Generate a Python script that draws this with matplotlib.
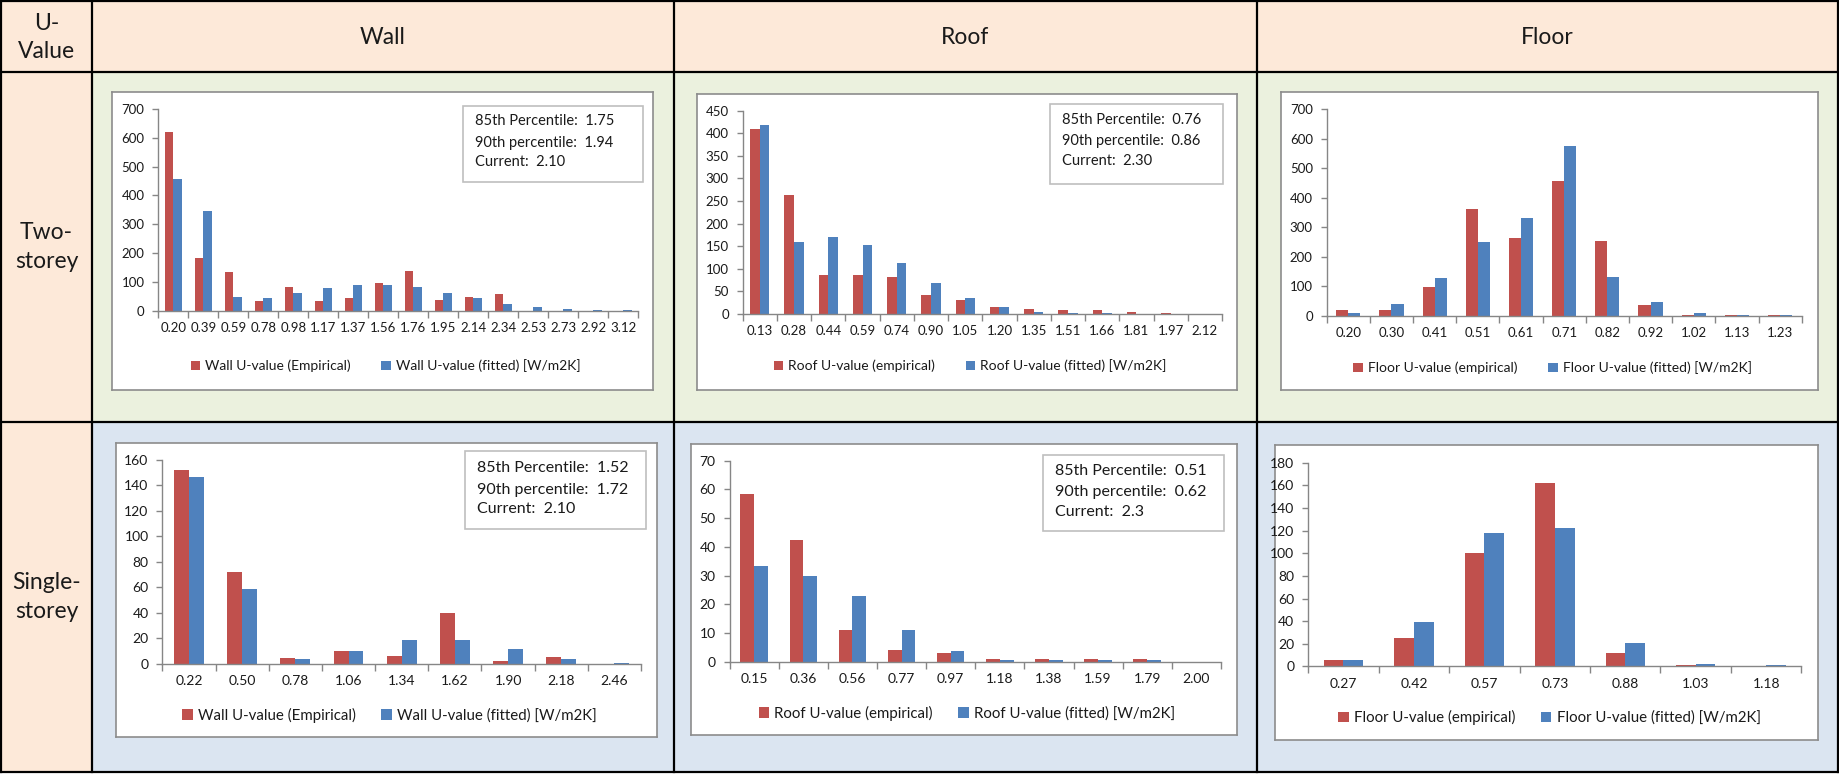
import matplotlib
matplotlib.use('Agg')
import matplotlib.pyplot as plt
from matplotlib.patches import Rectangle, Patch
import numpy as np

plt.rcParams['font.family'] = ['Lato', 'DejaVu Sans']

# ---------------- data ----------------
col_headers = ['Wall', 'Roof', 'Floor']
corner_label = 'U-\nValue'
row_labels = ['Two-\nstorey', 'Single-\nstorey']

wall2_cats = ['0.20', '0.39', '0.59', '0.78', '0.98', '1.17', '1.37', '1.56',
              '1.76', '1.95', '2.14', '2.34', '2.53', '2.73', '2.92', '3.12']
wall2_emp = [619, 182, 133, 32, 83, 32, 43, 95, 137, 36, 49, 58, 0, 0, 0, 0]
wall2_fit = [456, 345, 49, 43, 61, 78, 90, 90, 81, 61, 43, 23, 14, 6, 4, 4]
wall2_stats = ['85th Percentile:  1.75', '90th percentile:  1.94', 'Current:  2.10']
wall2_legend = ['Wall U-value (Empirical)', 'Wall U-value (fitted) [W/m2K]']

roof2_cats = ['0.13', '0.28', '0.44', '0.59', '0.74', '0.90', '1.05',
              '1.20', '1.35', '1.51', '1.66', '1.81', '1.97', '2.12']
roof2_emp = [409, 263, 86, 86, 83, 42, 30, 15, 12, 9, 8, 4, 2, 0]
roof2_fit = [418, 159, 171, 153, 113, 69, 35, 15, 4, 3, 2, 1, 0, 0]
roof2_stats = ['85th Percentile:  0.76', '90th percentile:  0.86', 'Current:  2.30']
roof2_legend = ['Roof U-value (empirical)', 'Roof U-value (fitted) [W/m2K]']

floor2_cats = ['0.20', '0.30', '0.41', '0.51', '0.61', '0.71', '0.82',
               '0.92', '1.02', '1.13', '1.23']
floor2_emp = [18, 18, 98, 363, 262, 457, 254, 37, 3, 2, 2]
floor2_fit = [9, 38, 126, 249, 332, 574, 130, 45, 10, 2, 2]
floor2_legend = ['Floor U-value (empirical)', 'Floor U-value (fitted) [W/m2K]']

wall1_cats = ['0.22', '0.50', '0.78', '1.06', '1.34', '1.62', '1.90', '2.18', '2.46']
wall1_emp = [152, 72, 5, 10, 6, 40, 2, 5.5, 0]
wall1_fit = [146, 59, 4, 10, 18.5, 19, 12, 4, 1]
wall1_stats = ['85th Percentile:  1.52', '90th percentile:  1.72', 'Current:  2.10']
wall1_legend = ['Wall U-value (Empirical)', 'Wall U-value (fitted) [W/m2K]']

roof1_cats = ['0.15', '0.36', '0.56', '0.77', '0.97', '1.18', '1.38', '1.59', '1.79', '2.00']
roof1_emp = [58.4, 42.3, 11.1, 4.2, 2.9, 0.9, 0.9, 0.9, 0.9, 0]
roof1_fit = [33.5, 30, 22.9, 11.1, 3.6, 0.7, 0.5, 0.5, 0.5, 0]
roof1_stats = ['85th Percentile:  0.51', '90th percentile:  0.62', 'Current:  2.3']
roof1_legend = ['Roof U-value (empirical)', 'Roof U-value (fitted) [W/m2K]']

floor1_cats = ['0.27', '0.42', '0.57', '0.73', '0.88', '1.03', '1.18']
floor1_emp = [5.3, 25.4, 100, 162, 11.8, 1.2, 0]
floor1_fit = [5.9, 39, 118, 122, 20.7, 2, 1.2]
floor1_legend = ['Floor U-value (empirical)', 'Floor U-value (fitted) [W/m2K]']

# ---------------- style ----------------
W, H = 1839, 774
RED = '#C0504D'
BLUE = '#4F81BD'
AXGRAY = '#868686'
PEACH = '#FDE9D9'
GREEN = '#EBF1DE'
LBLUE = '#DBE5F1'
TXT = '#1a1a1a'


def frac(x0, y0, x1, y1):
    return [x0 / W, 1 - y1 / H, (x1 - x0) / W, (y1 - y0) / H]


fig = plt.figure(figsize=(W / 100, H / 100), dpi=100)
bg = fig.add_axes([0, 0, 1, 1])
bg.set_xlim(0, W)
bg.set_ylim(H, 0)
bg.axis('off')

X = [1, 92, 674, 1257, 1838]
Y = [1, 72, 422, 772]

bg.add_patch(Rectangle((X[0], Y[0]), X[4] - X[0], Y[1] - Y[0], fc=PEACH, ec='none'))
bg.add_patch(Rectangle((X[0], Y[1]), X[1] - X[0], Y[3] - Y[1], fc=PEACH, ec='none'))
bg.add_patch(Rectangle((X[1], Y[1]), X[4] - X[1], Y[2] - Y[1], fc=GREEN, ec='none'))
bg.add_patch(Rectangle((X[1], Y[2]), X[4] - X[1], Y[3] - Y[2], fc=LBLUE, ec='none'))
for y in Y:
    bg.plot([X[0], X[4]], [y, y], color='black', lw=1.6, solid_capstyle='projecting')
for x in X:
    bg.plot([x, x], [Y[0], Y[3]], color='black', lw=1.6, solid_capstyle='projecting')

bg.text((X[0] + X[1]) / 2, (Y[0] + Y[1]) / 2 + 1, corner_label, ha='center', va='center',
        fontsize=16.5, linespacing=1.4, color=TXT)
for i, h in enumerate(col_headers):
    bg.text((X[i + 1] + X[i + 2]) / 2, (Y[0] + Y[1]) / 2 + 1, h, ha='center', va='center',
            fontsize=16.5, color=TXT)
for i, r in enumerate(row_labels):
    bg.text((X[0] + X[1]) / 2, (Y[i + 1] + Y[i + 2]) / 2, r, ha='center', va='center',
            fontsize=16.5, linespacing=1.5, color=TXT)


def chart(box, plot, cats, emp, fit, ymax, ystep, labels, legend_y, fs, lfs, colsp,
          stats=None, stat_box=None, stat_ys=None, stat_x=None, stat_fs=10):
    bx = fig.add_axes(frac(*box))
    bx.set_xlim(box[0], box[2])
    bx.set_ylim(box[3], box[1])
    bx.set_xticks([])
    bx.set_yticks([])
    bx.set_facecolor('white')
    for s in bx.spines.values():
        s.set_color('#8C8C8C')
        s.set_linewidth(1.2)
    if stats is not None:
        sb = stat_box
        bx.add_patch(Rectangle((sb[0], sb[1]), sb[2] - sb[0], sb[3] - sb[1],
                               fc='white', ec='#BFBFBF', lw=1.2))
        for t, yy in zip(stats, stat_ys):
            bx.text(stat_x, yy, t, ha='left', va='center', fontsize=stat_fs, color=TXT)

    px0, px1, ptop, pzero = plot
    ax = fig.add_axes(frac(px0, ptop, px1, pzero))
    ax.patch.set_alpha(0)
    n = len(cats)
    x = np.arange(n)
    ax.bar(x - 0.14, emp, 0.28, color=RED, linewidth=0)
    ax.bar(x + 0.14, fit, 0.28, color=BLUE, linewidth=0)
    ax.set_xlim(-0.5, n - 0.5)
    ax.set_ylim(0, ymax)
    ax.set_yticks(np.arange(0, ymax + 0.1, ystep))
    ax.set_xticks(x)
    ax.set_xticklabels(cats)
    ax.set_xticks(np.arange(-0.5, n, 1), minor=True)
    ax.tick_params(axis='x', which='major', length=0, pad=8, labelsize=fs, labelcolor=TXT)
    ax.tick_params(axis='x', which='minor', length=5, color=AXGRAY, width=1)
    ax.tick_params(axis='y', length=4, color=AXGRAY, width=1, labelsize=fs, pad=6,
                   labelcolor=TXT)
    for s in ['top', 'right']:
        ax.spines[s].set_visible(False)
    for s in ['left', 'bottom']:
        ax.spines[s].set_color(AXGRAY)
        ax.spines[s].set_linewidth(1)

    handles = [Patch(facecolor=RED, edgecolor='none'), Patch(facecolor=BLUE, edgecolor='none')]
    leg = fig.legend(handles, labels, loc='center',
                     bbox_to_anchor=(((box[0] + box[2]) / 2 + 3) / W, 1 - legend_y / H),
                     ncol=2, frameon=False, fontsize=lfs, handlelength=0.7, handleheight=0.7,
                     handletextpad=0.35, columnspacing=colsp, borderpad=0, borderaxespad=0)
    for t in leg.get_texts():
        t.set_color(TXT)


# Two-storey row
chart((112, 92, 653, 390), (158.3, 638.3, 109, 310.7), wall2_cats, wall2_emp, wall2_fit,
      700, 100, wall2_legend, 366, 9.5, 10, 2.2,
      stats=wall2_stats, stat_box=(463, 105.7, 643, 182.3), stat_ys=(120.7, 142.7, 162.3),
      stat_x=475, stat_fs=10.5)
chart((697, 94, 1237, 390), (742.7, 1222, 110.7, 314), roof2_cats, roof2_emp, roof2_fit,
      450, 50, roof2_legend, 366, 9.5, 10, 2.2,
      stats=roof2_stats, stat_box=(1050, 104, 1223, 184), stat_ys=(120, 140.7, 161),
      stat_x=1062, stat_fs=10.5)
chart((1281, 92, 1818, 390), (1326.7, 1801.7, 109, 315.7), floor2_cats, floor2_emp, floor2_fit,
      700, 100, floor2_legend, 368, 9.5, 10, 2.2)

# Single-storey row
chart((116, 443, 657, 737), (162.4, 641, 459.6, 663.9), wall1_cats, wall1_emp, wall1_fit,
      160, 20, wall1_legend, 715.4, 10, 10.8, 1.7,
      stats=wall1_stats, stat_box=(464.9, 451.3, 645.6, 529.4), stat_ys=(467.9, 489.5, 509.4),
      stat_x=476.7, stat_fs=11.5)
chart((691, 444, 1237, 735), (729.6, 1220.9, 460.7, 661.7), roof1_cats, roof1_emp, roof1_fit,
      70, 10, roof1_legend, 713.3, 10, 10.8, 1.7,
      stats=roof1_stats, stat_box=(1043.3, 455, 1223.7, 531), stat_ys=(471, 491.7, 512),
      stat_x=1054.7, stat_fs=11.5)
chart((1275, 445, 1818, 740), (1308.2, 1801.4, 462.7, 666.4), floor1_cats, floor1_emp, floor1_fit,
      180, 20, floor1_legend, 717.6, 10, 10.8, 1.7)

fig.savefig('out.png', dpi=100)
